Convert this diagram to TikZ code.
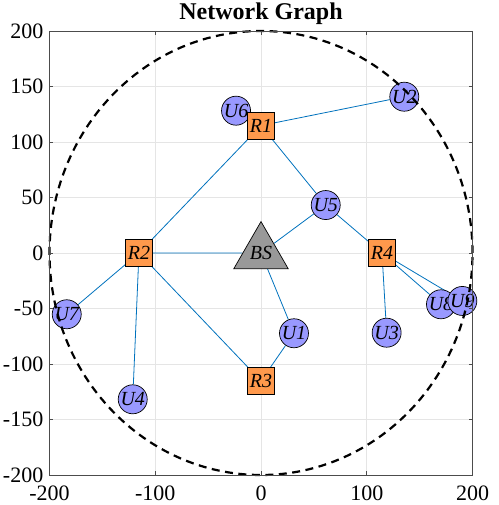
\documentclass[tikz,border=0pt]{standalone}
\usepackage{fontspec}
\setmainfont{Liberation Serif}
\usetikzlibrary{shapes.geometric,backgrounds}

\begin{document}
\begin{tikzpicture}[x=1.0575pt, y=1.11pt,
	user/.style={circle, draw=black, line width=0.7pt, fill=color1, minimum size=29pt, inner sep=0pt, font=\fontsize{20}{20}\selectfont\itshape},
	relay/.style={rectangle, draw=black, line width=0.7pt, fill=color2, minimum size=27pt, inner sep=0pt, font=\fontsize{20}{20}\selectfont\itshape},
	station/.style={regular polygon, regular polygon sides=3, draw=black, line width=0.7pt, fill=color3, minimum size=56pt, inner sep=0pt, font=\fontsize{20}{20}\selectfont\itshape},
	link/.style={draw=color4, line width=0.8pt},
	ticklabel/.style={inner sep=0pt, font=\fontsize{22}{22}\selectfont}]
	\definecolor{color1}{rgb}{0.6, 0.6, 1.}
	\definecolor{color2}{rgb}{1., 0.6, 0.3}
	\definecolor{color3}{gray}{0.6}
	\definecolor{color4}{rgb}{0., 0.447, 0.741}
	\definecolor{color5}{gray}{0.9}
	\path[use as bounding box] (0,0) ++(-261pt,-252pt) rectangle ++(498pt,505pt);
	%% Grid ----------
	\begin{scope}[on background layer]
		\foreach \x in {-100,0,100} \draw[color5, line width=0.6pt] (\x,-200) -- (\x,200);
		\foreach \y in {-150,-100,...,150} \draw[color5, line width=0.6pt] (-200,\y) -- (200,\y);
	\end{scope}
	%% Vertices ------
	\node[user] (u6) at (-23.6,128.2) {U6};
	\node[user] (u2) at (135.5,140.8) {U2};
	\node[user] (u5) at (61.2,43.2) {U5};
	\node[user] (u8) at (170.2,-46.2) {U8};
	\node[user] (u9) at (190.4,-43.2) {U9};
	\node[user] (u3) at (118.8,-71.8) {U3};
	\node[user] (u1) at (31.2,-72.3) {U1};
	\node[user] (u7) at (-183.7,-55.2) {U7};
	\node[user] (u4) at (-121.3,-131.8) {U4};
	\node[relay] (r1) at (0,114.8) {R1};
	\node[relay] (r2) at (-115.4,0) {R2};
	\node[relay] (r3) at (0,-115.3) {R3};
	\node[relay] (r4) at (114.4,0) {R4};
	\node[station] (bs) at (0,0) {BS};
	%% Edges ---------
	\begin{scope}[on background layer]
		\draw[link] (r1) -- (u2);
		\draw[link] (r1) -- (u5);
		\draw[link] (r1) -- (r2);
		\draw[link] (u5) -- (bs);
		\draw[link] (u5) -- (r4);
		\draw[link] (r2) -- (bs);
		\draw[link] (r2) -- (u7);
		\draw[link] (r2) -- (u4);
		\draw[link] (r2) -- (r3);
		\draw[link] (bs) -- (u1);
		\draw[link] (r3) -- (u1);
		\draw[link] (r4) -- (u3);
		\draw[link] (r4) -- (u8);
		\draw[link] (r4) -- (u9);
	\end{scope}
	%% Coverage ------
	\draw[black, line width=2.2pt, dash pattern=on 8pt off 5.5pt] (0,0) ellipse [x radius=211.5pt, y radius=222pt];
	%% Axes ----------
	\draw[black!70, line width=0.6pt] (-200,-200) rectangle (200,200);
	\foreach \x in {-200,-100,...,200} {
		\draw[black!70, line width=0.6pt] (\x,-200) -- ++(0,4pt) (\x,200) -- ++(0,-4pt);
		\node[ticklabel, yshift=-18pt] at (\x,-200) {\x};
	}
	\foreach \y in {-200,-150,...,200} {
		\draw[black!70, line width=0.6pt] (-200,\y) -- ++(4pt,0) (200,\y) -- ++(-4pt,0);
		\node[ticklabel, anchor=east, xshift=-6pt] at (-200,\y) {\y};
	}
	\node[inner sep=0pt, anchor=base, yshift=11.5pt, font=\bfseries\fontsize{24}{24}\selectfont] (title) at (0,200) {Network Graph};
\end{tikzpicture}
\end{document}
